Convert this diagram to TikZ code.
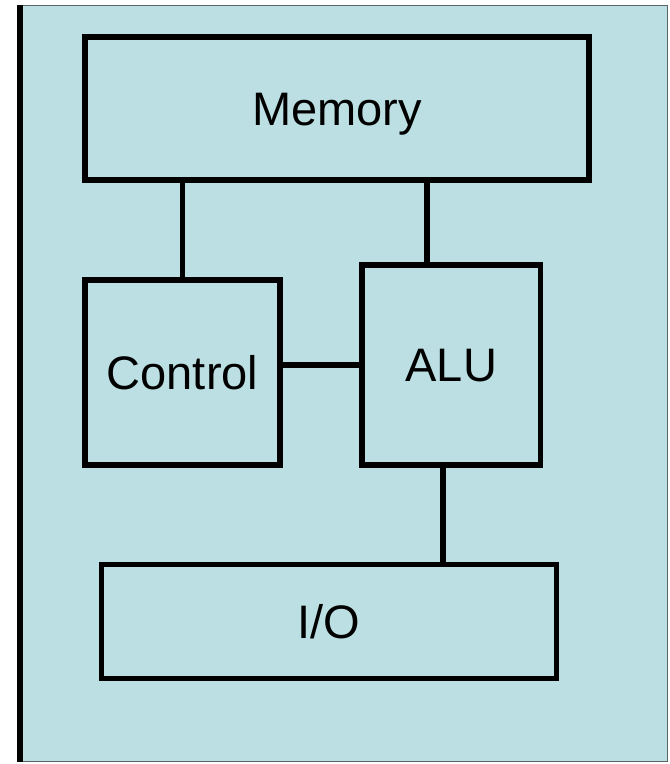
\documentclass[tikz,border=0pt]{standalone}
\usepackage{fontspec}
\setmainfont{Liberation Sans}
\definecolor{bgcyan}{RGB}{187,223,226}
\definecolor{edgegray}{RGB}{90,100,100}
\begin{document}
\begin{tikzpicture}[x=1pt,y=-1pt,
  unit/.style={draw=black, line width=5.5pt, fill=bgcyan, inner sep=0pt, outer sep=0pt,
    font=\fontsize{47}{56}\selectfont, text height=33.6pt, text depth=0pt},
  wire/.style={draw=black, line width=5.5pt}]
\useasboundingbox (0,0) rectangle (670,764);
% outer panel
\path[fill=bgcyan, draw=edgegray, line width=1pt] (17,5.5) rectangle (667,761);
\draw[black, line width=6pt] (20,5) -- (20,761.5);
% boxes
\node[unit, minimum width=504pt, minimum height=143pt] (mem) at (337,108.5) {Memory};
\node[unit, minimum width=195pt, minimum height=185pt] (ctl) at (182.5,372.5) {Control};
\node[unit, minimum width=178.5pt, minimum height=200pt] (alu) at (451.25,365) {ALU};
\node[unit, minimum width=455pt, minimum height=114pt] (io) at (329,621.5) {I/O};
% connectors
\draw[wire] (ctl.north) -- (ctl.north |- mem.south);
\draw[wire] ([xshift=65pt]alu.north west) -- ([xshift=65pt]alu.north west |- mem.south);
\draw[wire] ([yshift=7.5pt]ctl.east) -- ([yshift=7.5pt]ctl.east -| alu.west);
\draw[wire] ([xshift=81pt]alu.south west) -- ([xshift=81pt]alu.south west |- io.north);
\end{tikzpicture}
\end{document}
